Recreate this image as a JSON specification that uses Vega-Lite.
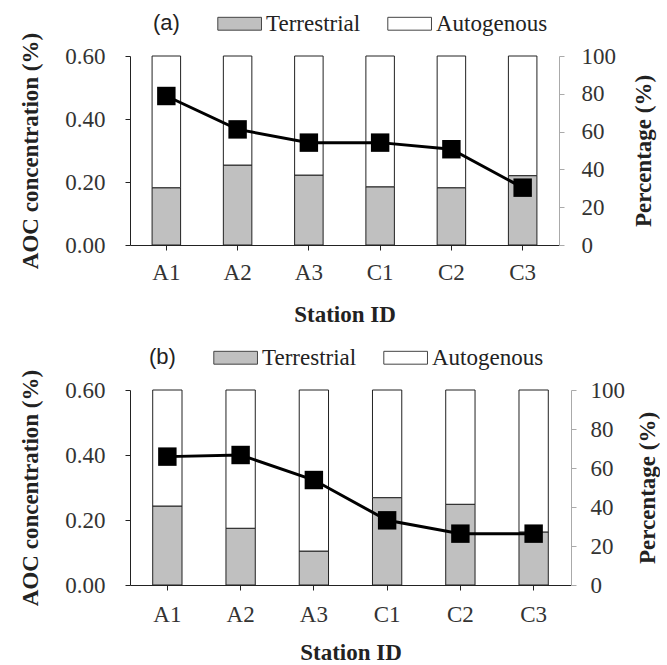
{
  "$schema": "https://vega.github.io/schema/vega-lite/v6.json",
  "background": "white",
  "padding": {"left": 19, "top": 10, "right": 0, "bottom": 0},
  "config": {
    "view": {"stroke": null},
    "font": "Liberation Serif",
    "axis": {"grid": false, "labelFont": "Liberation Serif", "labelFontSize": 23, "labelColor": "#333", "titleFont": "Liberation Serif", "titleFontSize": 23, "titleFontWeight": "bold", "titleColor": "#222", "domainColor": "#222", "tickColor": "#222", "tickSize": 5},
    "legend": {"orient": "none", "direction": "horizontal", "titleOrient": "left", "titleFont": "Liberation Sans", "titleFontSize": 22, "titleFontWeight": "normal", "titleColor": "#222", "titlePadding": 50, "labelFont": "Liberation Serif", "labelFontSize": 23, "labelColor": "#222", "symbolType": "M-2,-0.5H1.4V0.5H-2Z", "symbolSize": 660, "symbolStrokeColor": "#444", "symbolStrokeWidth": 1, "labelOffset": 9, "columnPadding": 24}
  },
  "datasets": {
    "a_bar": [
      {"station": "A1", "component": "Terrestrial", "pct": 30.3},
      {"station": "A1", "component": "Autogenous", "pct": 69.7},
      {"station": "A2", "component": "Terrestrial", "pct": 42.3},
      {"station": "A2", "component": "Autogenous", "pct": 57.7},
      {"station": "A3", "component": "Terrestrial", "pct": 37},
      {"station": "A3", "component": "Autogenous", "pct": 63},
      {"station": "C1", "component": "Terrestrial", "pct": 30.8},
      {"station": "C1", "component": "Autogenous", "pct": 69.2},
      {"station": "C2", "component": "Terrestrial", "pct": 30.3},
      {"station": "C2", "component": "Autogenous", "pct": 69.7},
      {"station": "C3", "component": "Terrestrial", "pct": 36.7},
      {"station": "C3", "component": "Autogenous", "pct": 63.3}
    ],
    "a_line": [
      {"station": "A1", "aoc": 0.473},
      {"station": "A2", "aoc": 0.367},
      {"station": "A3", "aoc": 0.325},
      {"station": "C1", "aoc": 0.325},
      {"station": "C2", "aoc": 0.304},
      {"station": "C3", "aoc": 0.182}
    ],
    "b_bar": [
      {"station": "A1", "component": "Terrestrial", "pct": 40.5},
      {"station": "A1", "component": "Autogenous", "pct": 59.5},
      {"station": "A2", "component": "Terrestrial", "pct": 29.1},
      {"station": "A2", "component": "Autogenous", "pct": 70.9},
      {"station": "A3", "component": "Terrestrial", "pct": 17.4},
      {"station": "A3", "component": "Autogenous", "pct": 82.6},
      {"station": "C1", "component": "Terrestrial", "pct": 44.8},
      {"station": "C1", "component": "Autogenous", "pct": 55.2},
      {"station": "C2", "component": "Terrestrial", "pct": 41.4},
      {"station": "C2", "component": "Autogenous", "pct": 58.6},
      {"station": "C3", "component": "Terrestrial", "pct": 27.2},
      {"station": "C3", "component": "Autogenous", "pct": 72.8}
    ],
    "b_line": [
      {"station": "A1", "aoc": 0.395},
      {"station": "A2", "aoc": 0.4},
      {"station": "A3", "aoc": 0.323},
      {"station": "C1", "aoc": 0.199},
      {"station": "C2", "aoc": 0.158},
      {"station": "C3", "aoc": 0.158}
    ]
  },
  "vconcat": [
    {
      "width": 429,
      "height": 189,
      "resolve": {"scale": {"y": "independent"}},
      "encoding": {
        "x": {"field": "station", "type": "nominal", "sort": null, "scale": {"type": "band", "paddingInner": 0.6, "paddingOuter": 0.31}, "axis": {"title": "Station ID", "labelAngle": 0, "labelPadding": 11, "titlePadding": 19}}
      },
      "layer": [
        {
          "data": {"name": "a_bar"},
          "mark": {"type": "bar", "stroke": "#222", "strokeWidth": 1},
          "encoding": {
            "y": {"field": "pct", "type": "quantitative", "stack": "zero", "scale": {"domain": [0, 100]}, "axis": {"orient": "right", "title": "Percentage (%)", "values": [0, 20, 40, 60, 80, 100], "domainColor": "#aaa", "tickColor": "#aaa", "labelPadding": 17, "titleAngle": 270, "titlePadding": 40}},
            "fill": {"field": "component", "type": "nominal", "scale": {"domain": ["Terrestrial", "Autogenous"], "range": ["#c0c0c0", "#ffffff"]}, "legend": {"title": "(a)", "legendX": 23, "legendY": -46}},
            "order": {"field": "component", "sort": "descending"}
          }
        },
        {
          "data": {"name": "a_line"},
          "mark": {"type": "line", "color": "#000", "strokeWidth": 3, "point": {"shape": "square", "size": 340, "filled": true, "color": "#000"}},
          "encoding": {
            "y": {"field": "aoc", "type": "quantitative", "scale": {"domain": [0, 0.6]}, "axis": {"orient": "left", "title": "AOC concentration (%)", "values": [0, 0.2, 0.4, 0.6], "format": ".2f", "labelPadding": 20, "titlePadding": 22}}
          }
        }
      ]
    },
    {
      "width": 441,
      "height": 195,
      "resolve": {"scale": {"y": "independent"}},
      "encoding": {
        "x": {"field": "station", "type": "nominal", "sort": null, "scale": {"type": "band", "paddingInner": 0.6, "paddingOuter": 0.31}, "axis": {"title": "Station ID", "labelAngle": 0, "labelPadding": 13, "titlePadding": 15}}
      },
      "layer": [
        {
          "data": {"name": "b_bar"},
          "mark": {"type": "bar", "stroke": "#222", "strokeWidth": 1},
          "encoding": {
            "y": {"field": "pct", "type": "quantitative", "stack": "zero", "scale": {"domain": [0, 100]}, "axis": {"orient": "right", "title": "Percentage (%)", "values": [0, 20, 40, 60, 80, 100], "domainColor": "#aaa", "tickColor": "#aaa", "labelPadding": 14, "titleAngle": 270, "titlePadding": 35}},
            "fill": {"field": "component", "type": "nominal", "scale": {"domain": ["Terrestrial", "Autogenous"], "range": ["#c0c0c0", "#ffffff"]}, "legend": {"title": "(b)", "legendX": 19, "legendY": -46}},
            "order": {"field": "component", "sort": "descending"}
          }
        },
        {
          "data": {"name": "b_line"},
          "mark": {"type": "line", "color": "#000", "strokeWidth": 3, "point": {"shape": "square", "size": 340, "filled": true, "color": "#000"}},
          "encoding": {
            "y": {"field": "aoc", "type": "quantitative", "scale": {"domain": [0, 0.6]}, "axis": {"orient": "left", "title": "AOC concentration (%)", "values": [0, 0.2, 0.4, 0.6], "format": ".2f", "labelPadding": 20, "titlePadding": 22}}
          }
        }
      ]
    }
  ],
  "spacing": 18,
  "resolve": {"scale": {"fill": "independent"}}
}
